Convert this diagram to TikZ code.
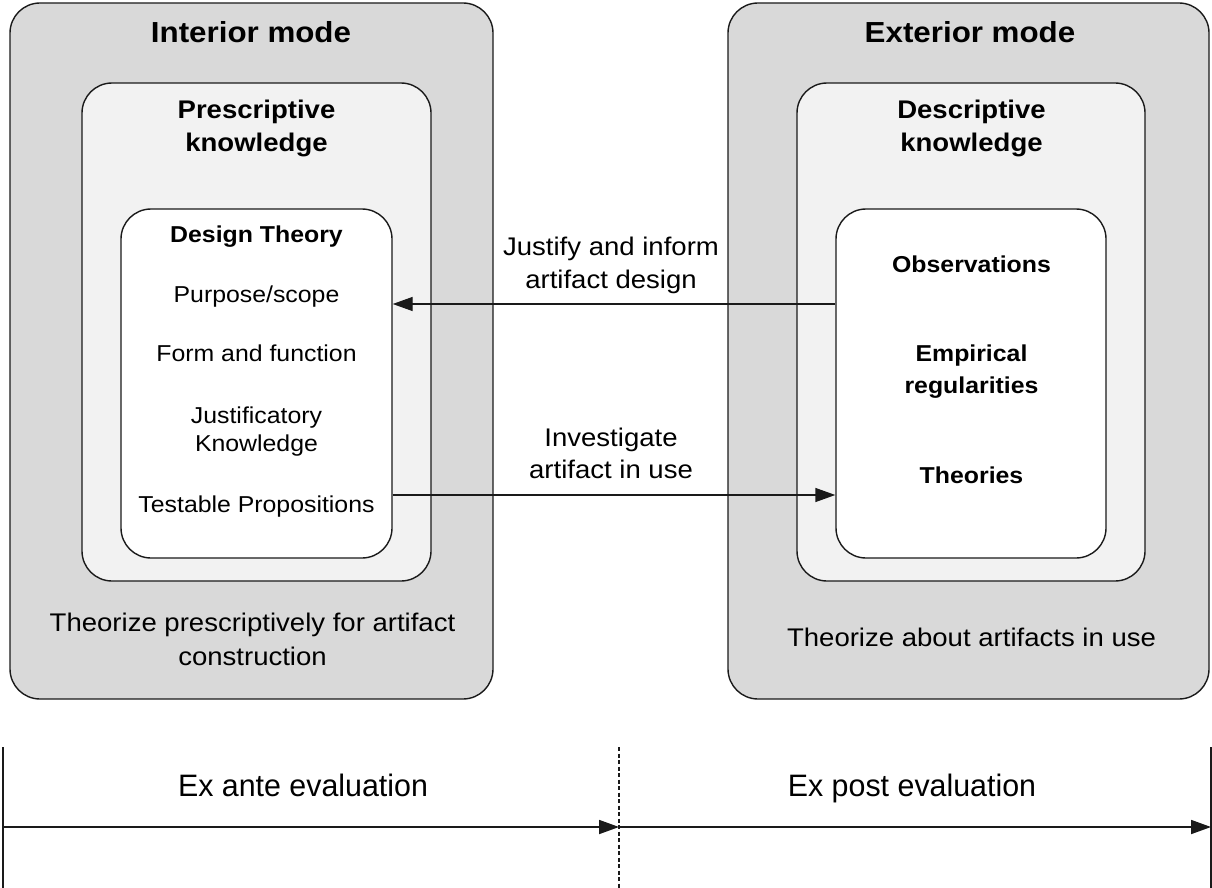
\documentclass[tikz,border=0pt]{standalone}
\usepackage{fontspec}
\setmainfont[FakeStretch=1.08]{Liberation Sans}
\newfontfamily\evalfont[FakeStretch=0.98]{Liberation Sans}
\usetikzlibrary{arrows.meta}
\definecolor{modegray}{HTML}{D9D9D9}
\definecolor{knowgray}{HTML}{F2F2F2}
\definecolor{edge}{HTML}{1A1A1A}
\begin{document}
\begin{tikzpicture}[x=1pt,y=-1pt,
  box/.style={draw=edge, line width=1.4pt, rounded corners=30pt, inner sep=0pt},
  modebox/.style={box, fill=modegray},
  knowbox/.style={box, fill=knowgray},
  corebox/.style={box, fill=white},
  txt/.style={inner sep=0pt, anchor=base, text=black},
  title/.style={txt, font=\fontsize{29}{34}\selectfont\bfseries},
  head/.style={txt, font=\fontsize{25.5}{30}\selectfont\bfseries},
  item/.style={txt, font=\fontsize{23}{27}\selectfont},
  itemb/.style={txt, font=\fontsize{23}{27}\selectfont\bfseries},
  flowlabel/.style={txt, font=\fontsize{25.5}{30}\selectfont},
  evallabel/.style={txt, font=\evalfont\fontsize{31}{36}\selectfont},
  arr/.style={draw=edge, line width=1.4pt, -{Triangle[length=20pt,width=14pt]}},
  phase/.style={draw=edge, line width=1.8pt},
]
\useasboundingbox (0,0) rectangle (1212,888);

% ---- interior mode ----
\node[modebox, minimum width=483pt, minimum height=696pt] (intmode) at (251.5,351) {};
\node[knowbox, minimum width=349pt, minimum height=498pt] (presc) at (256.5,332) {};
\node[corebox, minimum width=271pt, minimum height=349pt] (dtheory) at (256.5,383.5) {};

\node[title] (inttitle) at (251,42.5) {Interior mode};
\node[head] (presca) at (256.5,118) {Prescriptive};
\node[head] (prescb) at (256.5,151) {knowledge};
\node[itemb] (dthead) at (256.5,242) {Design Theory};
\node[item] (purpose) at (256.5,302.5) {Purpose/scope};
\node[item] (form) at (256.5,361.5) {Form and function};
\node[item] (justa) at (256.5,423.5) {Justificatory};
\node[item] (justb) at (256.5,451.5) {Knowledge};
\node[item] (testable) at (256.5,512.5) {Testable Propositions};
\node[flowlabel] (intfoota) at (252.5,631.5) {Theorize prescriptively for artifact};
\node[flowlabel] (intfootb) at (252.5,665) {construction};

% ---- exterior mode ----
\node[modebox, minimum width=481pt, minimum height=696pt] (extmode) at (968.5,351) {};
\node[knowbox, minimum width=348pt, minimum height=498pt] (descr) at (971,332) {};
\node[corebox, minimum width=270pt, minimum height=349pt] (findings) at (971,383.5) {};

\node[title] (exttitle) at (970,42.5) {Exterior mode};
\node[head] (descra) at (971.5,118) {Descriptive};
\node[head] (descrb) at (971.5,151) {knowledge};
\node[itemb] (observ) at (971.5,272.5) {Observations};
\node[itemb] (empa) at (971.5,361.5) {Empirical};
\node[itemb] (empb) at (971.5,393) {regularities};
\node[itemb] (theories) at (971.5,483) {Theories};
\node[flowlabel] (extfoot) at (971.5,646.5) {Theorize about artifacts in use};

% ---- links between the modes ----
\coordinate (informrow) at (0,304);
\coordinate (investrow) at (0,495);
\draw[arr] (findings.west |- informrow) -- (dtheory.east |- informrow);
\draw[arr] (dtheory.east |- investrow) -- (findings.west |- investrow);
\node[flowlabel] (informa) at (611,255) {Justify and inform};
\node[flowlabel] (informb) at (611,288.5) {artifact design};
\node[flowlabel] (investa) at (611,446.5) {Investigate};
\node[flowlabel] (investb) at (611,478.5) {artifact in use};

% ---- evaluation time line ----
\coordinate (starttop) at (3,747);
\coordinate (startbot) at (3,888);
\coordinate (midtop) at (619,747);
\coordinate (midbot) at (619,888);
\coordinate (endtop) at (1211,747);
\coordinate (endbot) at (1211,888);
\coordinate (lineleft) at (3,827);
\coordinate (linemid) at (619,827);
\coordinate (lineright) at (1211,827);
\draw[phase] (starttop) -- (startbot);
\draw[phase] (endtop) -- (endbot);
\draw[draw=edge, line width=1.6pt, dash pattern=on 4pt off 2.5pt] (midtop) -- (midbot);
\draw[arr, line width=1.8pt] (lineleft) -- (linemid);
\draw[arr, line width=1.8pt] (linemid) -- (lineright);
\node[evallabel] (exante) at (303,796) {Ex ante evaluation};
\node[evallabel] (expost) at (912,796) {Ex post evaluation};
\end{tikzpicture}
\end{document}
